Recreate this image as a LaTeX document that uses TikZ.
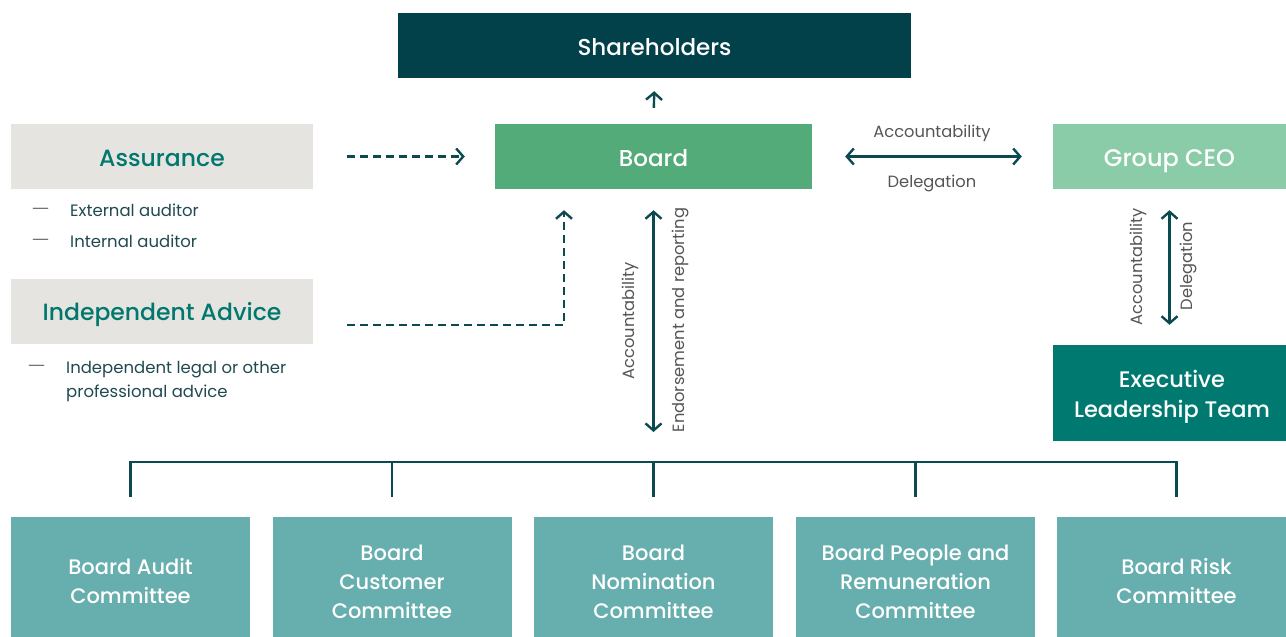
\documentclass[tikz,border=0pt]{standalone}
\usepackage{fontspec}
\setmainfont{Poppins}
\newfontfamily\medfont{Poppins Medium}
\newfontfamily\djv{DejaVu Sans}
\usetikzlibrary{arrows.meta}
\definecolor{darkteal}{HTML}{02404A}
\definecolor{arrowc}{HTML}{0B4A50}
\definecolor{boardg}{HTML}{52AB78}
\definecolor{ceog}{HTML}{89CCA7}
\definecolor{eltc}{HTML}{007A70}
\definecolor{commc}{HTML}{67AFAE}
\definecolor{greybox}{HTML}{E6E4E0}
\definecolor{headc}{HTML}{00786E}
\definecolor{bulletc}{HTML}{1F4A50}
\definecolor{labelc}{HTML}{555555}
\definecolor{dashc}{HTML}{6A6A6A}
\tikzset{
  box/.style={inner sep=0pt, minimum height=65pt, align=center, text=white, font=\medfont\fontsize{23}{30}\selectfont},
  onel/.style={text height=20pt, text depth=1pt},
  greyb/.style={box, onel, fill=greybox, text=headc, minimum width=302pt, font=\medfont\fontsize{23.5}{30}\selectfont},
  commtxt/.style={font=\medfont\fontsize{21}{29}\selectfont, text=white, align=center, inner sep=0pt},
  commbox/.style={fill=commc, minimum width=239pt, minimum height=120pt, inner sep=0pt},
  link/.style={draw=arrowc, line width=2.4pt, {Straight Barb[length=7pt,width=16pt,line width=2.4pt]}-{Straight Barb[length=7pt,width=16pt,line width=2.4pt]}},
  uplink/.style={draw=arrowc, line width=2.4pt, -{Straight Barb[length=7pt,width=16pt,line width=2.4pt]}},
  dashlink/.style={draw=arrowc, line width=2.6pt, dash pattern=on 8pt off 5pt, -{Straight Barb[length=7pt,width=16pt,line width=2.4pt]}},
  bus/.style={draw=arrowc, line width=2.4pt},
  lbl/.style={text=labelc, font=\fontsize{16.3}{19}\selectfont, inner sep=0pt},
  bul/.style={text=bulletc, font=\fontsize{16.5}{24}\selectfont, inner sep=0pt, anchor=west, align=left},
  dashmark/.style={text=dashc, font=\djv\fontsize{17}{18}\selectfont, inner sep=0pt, anchor=west},
}
\begin{document}
\begin{tikzpicture}[x=1pt,y=-1pt]
\useasboundingbox (0,0) rectangle (1286,637);
% top boxes
\node[box, onel, fill=darkteal, minimum width=513pt] (sh) at (654.5,45.5) {Shareholders};
\node[box, onel, fill=boardg, minimum width=317pt] (board) at (653.5,156.5) {Board};
\node[box, onel, fill=ceog, minimum width=233pt, font=\medfont\fontsize{24}{30}\selectfont] (ceo) at (1169.5,156.5) {Group CEO};
\node[box, fill=eltc, minimum width=233pt, minimum height=96pt] (elt) at (1169.5,393) {};
\node[commtxt, font=\medfont\fontsize{22.5}{30}\selectfont] (eltt) at (1172,397) {Executive\\Leadership Team};
\node[greyb] (assur) at (162,156.5) {Assurance};
\node[greyb] (indep) at (162,311) {Independent Advice};
% bullets
\node[dashmark] (b1d) at (32,211) {—};
\node[bul] (b1) at (70,210) {External auditor};
\node[dashmark] (b2d) at (32,242) {—};
\node[bul] (b2) at (70,241) {Internal auditor};
\node[dashmark] (b3d) at (28,368) {—};
\node[bul, anchor=north west] (b3) at (66,361) {Independent legal or other\\professional advice};
% committees
\node[commbox] (c1) at (130.5,577) {};
\node[commbox] (c2) at (392,577) {};
\node[commbox] (c3) at (653.5,577) {};
\node[commbox] (c4) at (915.5,577) {};
\node[commbox, minimum width=229pt] (c5) at (1171.5,577) {};
\node[commtxt] (c1t) at (130.5,581) {Board Audit\\Committee};
\node[commtxt] (c2t) at (392,582) {Board\\Customer\\Committee};
\node[commtxt] (c3t) at (653.5,582) {Board\\Nomination\\Committee};
\node[commtxt] (c4t) at (915.5,582) {Board People and\\Remuneration\\Committee};
\node[commtxt] (c5t) at (1176.5,581) {Board Risk\\Committee};
% connectors
\draw[uplink, shorten <=16pt, shorten >=13pt] (board.north) -- (sh.south);
\draw[dashlink, shorten <=34pt, shorten >=30pt] (assur.east) -- (board.west);
\draw[dashlink, shorten <=34pt] ([yshift=-14pt]indep.east) -| ([xshift=-89.5pt,yshift=-21pt]board.south);
\draw[link, shorten <=33pt, shorten >=31pt] (board.east) -- (ceo.west);
\node[lbl] (l1) at (932,133) {Accountability};
\node[lbl] (l2) at (932,183) {Delegation};
\draw[link, shorten <=21pt, shorten >=20pt] (ceo.south) -- (elt.north);
\node[lbl, rotate=90] (l3) at (1138,267) {Accountability};
\node[lbl, rotate=90] (l4) at (1188,266) {Delegation};
\coordinate (hub) at (653.5,462);
\draw[link, shorten <=21pt, shorten >=30pt] (board.south) -- (hub);
\node[lbl, rotate=90] (l5) at (630,321) {Accountability};
\node[lbl, rotate=90] (l6) at (680,320) {Endorsement and reporting};
\draw[bus] ([yshift=20pt]c1.north) |- (hub) -| ([yshift=20pt,xshift=5pt]c5.north);
\draw[bus] ([yshift=20pt]c2.north) -- ([yshift=55pt]c2.north);
\draw[bus] ([yshift=20pt]c3.north) -- (hub);
\draw[bus] ([yshift=20pt]c4.north) -- ([yshift=55pt]c4.north);
\end{tikzpicture}
\end{document}
